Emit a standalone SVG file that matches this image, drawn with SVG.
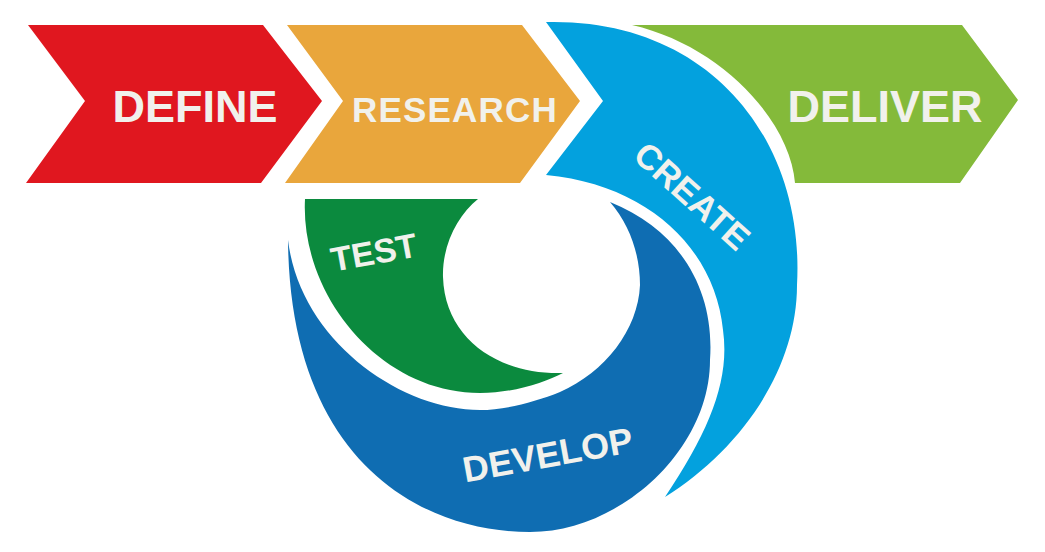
<svg xmlns="http://www.w3.org/2000/svg" width="1045" height="552" viewBox="0 0 1045 552">
<style>
.lbl{font-family:"Liberation Sans",Arial,sans-serif;font-weight:bold;fill:#f1f1ec;text-anchor:middle}
.red{fill:#e0171f}.orange{fill:#e9a63c}.lime{fill:#84ba3a}.sky{fill:#03a1de}.navy{fill:#0f6db2}.grn{fill:#0b8a3e}
</style>
<rect width="1045" height="552" fill="#ffffff"/>
<g id="define">
<path class="red" d="M28,25 L263,25 L322,101 L261,183 L26,183 L85,101 Z"/>
<text class="lbl" x="195" y="122" font-size="45">DEFINE</text>
</g>
<g id="research">
<path class="orange" d="M287,25 L522,25 L580,101 L520,183 L285,183 L343,101 Z"/>
<text class="lbl" x="455" y="122" font-size="35" letter-spacing="1.2">RESEARCH</text>
</g>
<g id="deliver">
<path class="lime" d="M632,25 L962,25 L1018,100 L960,183 L795,183 C790,120 720,45 632,25 Z"/>
<text class="lbl" x="885" y="122" font-size="45">DELIVER</text>
</g>
<g id="create">
<path class="sky" d="M546,22 C710,18 805,140 797,285 C797,370 740,450 665,497 C710,430 730,380 723,330 C715,250 650,185 546,175 L603,101 Z"/>
<text class="lbl" font-size="35" transform="translate(684,205) rotate(42)">CREATE</text>
</g>
<g id="develop">
<path class="navy" d="M288,240 C290,460 420,532 530,532 C620,532 710,450 710,360 C715,290 680,230 610,202 C630,225 640,255 640,285 C638,330 605,372 560,392 C535,402 505,410 480,410 C400,410 300,340 288,240 Z"/>
<text class="lbl" font-size="36" transform="translate(550,467) rotate(-10.3)">DEVELOP</text>
</g>
<g id="test">
<path class="grn" d="M305,199 L478,199 C458,215 442,245 443,277 C445,340 500,375 563,373 C545,382 515,393 480,393 C380,393 300,295 305,199 Z"/>
<text class="lbl" font-size="34" transform="translate(376,264) rotate(-10.3)">TEST</text>
</g>
<g id="connectors"/>
</svg>
